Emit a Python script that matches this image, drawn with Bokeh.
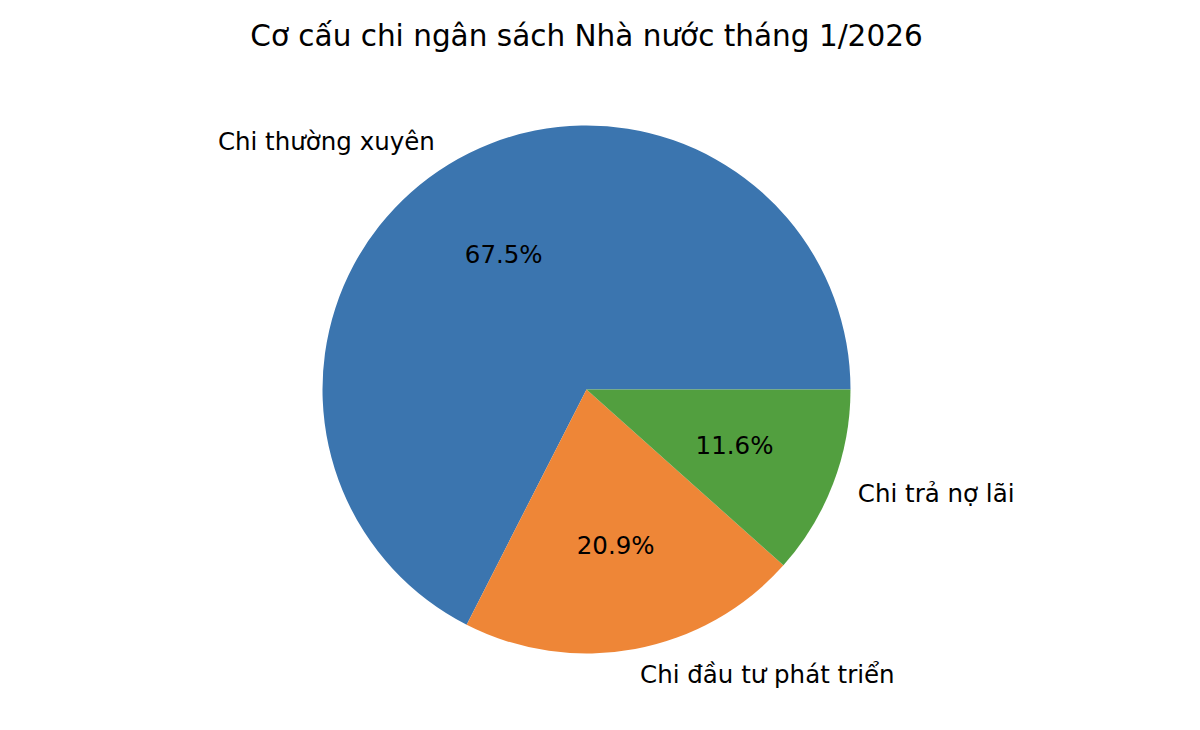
import numpy as np
from bokeh.core.properties import value
from bokeh.embed import file_html
from bokeh.models import ColumnDataSource, Range1d
from bokeh.plotting import figure
from bokeh.resources import INLINE

title = "Cơ cấu chi ngân sách Nhà nước tháng 1/2026"
labels = ["Chi thường xuyên", "Chi đầu tư phát triển", "Chi trả nợ lãi"]
shares = [67.5, 20.9, 11.6]
colors = ["#3b75af", "#ee8637", "#529f3f"]

W, H = 1184, 714
R = 264.0           # pie radius in px
cx, cy = 586, 389   # pie centre inside the canvas, px
FONT = value("DejaVu Sans")

# pie angles, counter-clockwise from 3 o'clock like matplotlib
frac = np.array(shares) / sum(shares)
ends = np.cumsum(frac) * 2 * np.pi
starts = ends - frac * 2 * np.pi
mids = (starts + ends) / 2

src = ColumnDataSource(data=dict(
    start=starts, end=ends, color=colors,
    lx=1.1 * np.cos(mids), ly=1.1 * np.sin(mids),
    align=["right" if np.cos(m) < 0 else "left" for m in mids],
    label=labels,
    px=0.6 * np.cos(mids), py=0.6 * np.sin(mids),
    pct=["%.1f%%" % s for s in shares],
))

p = figure(width=W, height=H, output_backend="svg", toolbar_location=None,
           x_range=Range1d(-cx / R, (W - cx) / R),
           y_range=Range1d(-(H - cy) / R, cy / R),
           x_axis_location=None, y_axis_location=None, min_border=0)
p.grid.visible = False
p.outline_line_color = None
p.background_fill_color = "white"
p.border_fill_color = "white"

p.wedge(x=0, y=0, radius=1, start_angle="start", end_angle="end",
        fill_color="color", line_color=None, source=src)

p.text(x="lx", y="ly", text="label", text_align="align", text_baseline="middle",
       text_font=FONT, text_font_size="24.5px", text_color="black", source=src)
p.text(x="px", y="py", text="pct", text_align="center", text_baseline="middle",
       text_font=FONT, text_font_size="24.5px", text_color="black", source=src)

p.text(x=[0], y=[(cy - 35) / R], text=[title], text_align="center",
       text_baseline="middle", text_font=FONT, text_font_size="29.5px",
       text_color="black")

open("out.html", "w").write(file_html(p, INLINE))
